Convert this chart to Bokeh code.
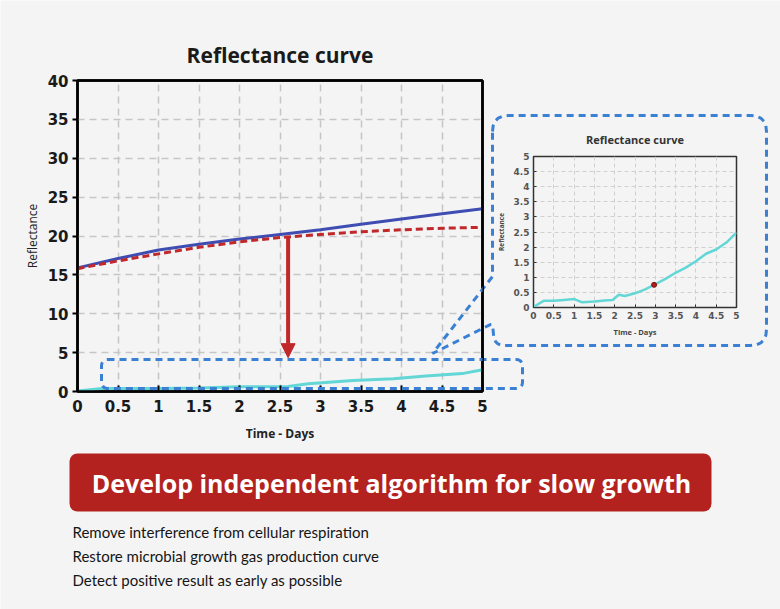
import numpy as np
from bokeh.plotting import figure
from bokeh.models import (GridBox, Range1d, FixedTicker, BoxAnnotation, PolyAnnotation,
                          Label, Arrow, NormalHead, LinearAxis)
from bokeh.embed import file_html
from bokeh.resources import INLINE

# ---- data -------------------------------------------------------------
time_days = [0, 0.5, 1, 1.5, 2, 2.5, 3, 3.5, 4, 4.5, 5]
total_reflectance = [15.9, 17.1, 18.2, 18.95, 19.6, 20.2, 20.8, 21.5, 22.2, 22.85, 23.5]
respiration_time = [0, 0.5, 1, 1.5, 2, 2.5, 3, 3.5, 4, 4.5, 4.95]
respiration_reflectance = [15.8, 16.8, 17.7, 18.55, 19.25, 19.8, 20.2, 20.55, 20.8, 21.0, 21.1]
growth_time = [0, 0.3, 1.0, 1.5, 2.0, 2.6, 2.85, 3.4, 3.9, 4.3, 4.75, 5.0]
growth_reflectance = [0.05, 0.4, 0.4, 0.45, 0.6, 0.65, 1.0, 1.4, 1.65, 2.0, 2.3, 2.8]

zoom_time = [0, 0.1, 0.25, 0.5, 0.75, 1.0, 1.05, 1.2, 1.5, 1.75, 1.95, 2.1, 2.25,
             2.5, 2.75, 3.0, 3.25, 3.5, 3.75, 4.0, 4.25, 4.5, 4.75, 5.0]
zoom_reflectance = [0.02, 0.1, 0.22, 0.22, 0.25, 0.28, 0.25, 0.17, 0.2, 0.23, 0.25, 0.42, 0.38,
                    0.47, 0.6, 0.77, 0.95, 1.15, 1.32, 1.53, 1.78, 1.92, 2.15, 2.48]
detect_time = [2.97]
detect_value = [0.75]

arrow_time = 2.6          # where the respiration curve is subtracted
arrow_end = 4.35          # top edge of the growth window

x_ticks = [0, 0.5, 1, 1.5, 2, 2.5, 3, 3.5, 4, 4.5, 5]
x_tick_labels = ["0", "0.5", "1", "1.5", "2", "2.5", "3", "3.5", "4", "4.5", "5"]
y_ticks_main = [0, 5, 10, 15, 20, 25, 30, 35, 40]
y_ticks_zoom = [0, 0.5, 1, 1.5, 2, 2.5, 3, 3.5, 4, 4.5, 5]
y_tick_labels_zoom = ["0", "0.5", "1", "1.5", "2", "2.5", "3", "3.5", "4", "4.5", "5"]

banner_text = "Develop independent algorithm for slow growth"
bullet_lines = ["Remove interference from cellular respiration",
                "Restore microbial growth gas production curve",
                "Detect positive result as early as possible"]

# ---- styling ----------------------------------------------------------
BG = "#f4f4f4"
BLUE = "#3f4db3"
RED = "#c0282a"
CYAN = "#63d6d6"
CALLOUT = "#3b80d2"
GRID = "#c6c6c6"

W, H = 780, 609
MAIN_W, MAIN_H = 492, 450


def rounded_path(points, radius, steps=6):
    """Closed outline through corner points with the corners rounded off."""
    pts = np.asarray(points, dtype=float)
    out = []
    n = len(pts)
    for i in range(n):
        prev, cur, nxt = pts[i - 1], pts[i], pts[(i + 1) % n]
        r = radius[i]
        if r <= 0:
            out.append(cur)
            continue
        d1 = (prev - cur) / np.linalg.norm(prev - cur)
        d2 = (nxt - cur) / np.linalg.norm(nxt - cur)
        a, b = cur + d1 * r, cur + d2 * r
        for s in np.linspace(0, 1, steps):
            out.append((1 - s) ** 2 * a + 2 * (1 - s) * s * cur + s ** 2 * b)
    out = np.array(out)
    return out[:, 0].tolist(), out[:, 1].tolist()


dashed = dict(fill_color=None, fill_alpha=0, line_color=CALLOUT, line_alpha=1,
              line_width=3, line_dash="7 5")
canvas_box = dict(left_units="canvas", right_units="canvas",
                  top_units="canvas", bottom_units="canvas")

# callout frame around the enlarged chart, pointing at the growth window
callout_x, callout_y = rounded_path(
    [(492, 115), (766, 115), (766, 345), (494, 345), (492, 323), (432, 353), (492, 276)],
    radius=[16, 16, 16, 10, 3, 0, 0])
window = dict(left=101, right=522, top=359, bottom=388)


def add_callouts(fig):
    fig.add_layout(BoxAnnotation(border_radius=6, **window, **canvas_box, **dashed))
    fig.add_layout(PolyAnnotation(xs=callout_x, ys=callout_y,
                                  xs_units="canvas", ys_units="canvas", **dashed))


# ---- base layer: page background, callouts, banner and notes ----------
o = figure(width=W, height=H, output_backend="svg", toolbar_location=None,
           x_axis_type=None, y_axis_type=None,
           x_range=Range1d(0, W), y_range=Range1d(H, 0),
           min_border=0, min_border_left=0, min_border_right=0,
           min_border_top=0, min_border_bottom=0)
o.background_fill_color = BG
o.border_fill_color = BG
o.outline_line_color = None
o.grid.visible = False
add_callouts(o)

o.add_layout(BoxAnnotation(left=69, right=711, top=453, bottom=511, **canvas_box,
                           fill_color="#b3221f", fill_alpha=1, line_color=None,
                           border_radius=8))
o.add_layout(Label(x=391, y=482, x_units="canvas", y_units="canvas", text=banner_text,
                   text_align="center", text_baseline="middle", text_color="white",
                   text_font="Open Sans", text_font_style="bold", text_font_size="25px"))
for i, line in enumerate(bullet_lines):
    o.add_layout(Label(x=72, y=531 + 24 * i, x_units="canvas", y_units="canvas",
                       text=line, text_align="left", text_baseline="middle",
                       text_color="#151515", text_font="Lato", text_font_size="15px"))

# ---- main chart -------------------------------------------------------
p = figure(width=MAIN_W, height=MAIN_H, output_backend="svg", toolbar_location=None,
           x_range=Range1d(0, 5), y_range=Range1d(0, 40),
           min_border_left=77, min_border_right=MAIN_W - 482,
           min_border_top=80, min_border_bottom=MAIN_H - 391)
p.background_fill_color = BG
p.border_fill_color = None
p.outline_line_color = "black"
p.outline_line_width = 2.5

p.title.text = "Reflectance curve"
p.title.align = "center"
p.title.text_font = "Open Sans"
p.title.text_font_size = "21px"
p.title.text_font_style = "bold"
p.title.text_color = "#1a1a1a"
p.title.standoff = 23

bottom_axis = p.below[0]
left_axis = p.left[0]

# plain axis lines that close the frame box on the top and right
frame_edge = dict(ticker=FixedTicker(ticks=[]), major_label_text_font_size="0px",
                  major_tick_in=0, major_tick_out=0, minor_tick_in=0, minor_tick_out=0,
                  major_label_standoff=0, axis_line_width=2.5, axis_line_color="black")
right_axis = LinearAxis(**frame_edge)
top_axis = LinearAxis(**frame_edge)
p.add_layout(right_axis, "right")
p.add_layout(top_axis, "above")

bottom_axis.ticker = FixedTicker(ticks=x_ticks)
bottom_axis.major_label_overrides = {t: s for t, s in zip(x_ticks, x_tick_labels)}
left_axis.ticker = FixedTicker(ticks=y_ticks_main)
for ax in (bottom_axis, left_axis):
    ax.axis_line_color = "black"
    ax.axis_line_width = 2.5
    ax.minor_tick_line_color = None
    ax.major_tick_line_color = "black"
    ax.major_tick_line_width = 2
    ax.major_label_text_font = "DejaVu Sans"
    ax.major_label_text_font_style = "bold"
    ax.major_label_text_font_size = "15px"
    ax.major_label_text_color = "#1a1a1a"
    ax.axis_label_text_font = "Open Sans"
    ax.axis_label_text_font_size = "12px"
    ax.axis_label_text_color = "#222222"
bottom_axis.major_tick_in = 6
bottom_axis.major_tick_out = 0
bottom_axis.major_label_standoff = 8
bottom_axis.axis_label = "Time - Days"
bottom_axis.axis_label_text_font_style = "bold"
bottom_axis.axis_label_standoff = 10
left_axis.major_tick_in = 0
left_axis.major_tick_out = 5
left_axis.major_label_standoff = 4
left_axis.axis_label = "Reflectance"
left_axis.axis_label_text_font_style = "normal"
left_axis.axis_label_standoff = 4

p.xgrid.ticker = FixedTicker(ticks=x_ticks)
p.ygrid.ticker = FixedTicker(ticks=y_ticks_main)
for g in (p.xgrid[0], p.ygrid[0]):
    g.grid_line_color = GRID
    g.grid_line_width = 1.5
    g.grid_line_dash = "7 5"

p.line(time_days, total_reflectance, line_color=BLUE, line_width=3)
p.line(respiration_time, respiration_reflectance, line_color=RED, line_width=3,
       line_dash="7 4")
p.line(growth_time, growth_reflectance, line_color=CYAN, line_width=3)

# subtraction arrow from the respiration curve down to the growth window
arrow_top = float(np.interp(arrow_time, respiration_time, respiration_reflectance))
p.add_layout(Arrow(x_start=arrow_time, y_start=arrow_top,
                   x_end=arrow_time, y_end=arrow_end,
                   line_color=RED, line_width=4,
                   end=NormalHead(size=14, fill_color=RED, line_color=RED)))

# the callouts also cross the chart area, so draw them over the frame too
add_callouts(p)

# ---- enlarged growth chart -------------------------------------------
q = figure(width=274, height=231, output_backend="svg", toolbar_location=None,
           x_range=Range1d(0, 5), y_range=Range1d(0, 5),
           min_border_left=41, min_border_right=30,
           min_border_top=41, min_border_bottom=39)
q.background_fill_color = BG
q.border_fill_color = None
q.outline_line_color = "#333333"
q.outline_line_width = 1.5
q.title.text = "Reflectance curve"
q.title.align = "center"
q.title.text_font = "Open Sans"
q.title.text_font_size = "11px"
q.title.text_font_style = "bold"
q.title.text_color = "#333333"
q.title.standoff = 20

q.xaxis.ticker = FixedTicker(ticks=x_ticks)
q.xaxis.major_label_overrides = {t: s for t, s in zip(x_ticks, x_tick_labels)}
q.yaxis.ticker = FixedTicker(ticks=y_ticks_zoom)
q.yaxis.major_label_overrides = {t: s for t, s in zip(y_ticks_zoom, y_tick_labels_zoom)}
for ax in (q.xaxis[0], q.yaxis[0]):
    ax.axis_line_color = None
    ax.minor_tick_line_color = None
    ax.major_tick_line_color = "#333333"
    ax.major_tick_in = 3
    ax.major_tick_out = 0
    ax.major_label_text_font = "DejaVu Sans"
    ax.major_label_text_font_style = "bold"
    ax.major_label_text_font_size = "9px"
    ax.major_label_text_color = "#555555"
    ax.major_label_standoff = 4
    ax.axis_label_text_font = "Open Sans"
    ax.axis_label_text_font_style = "bold"
    ax.axis_label_text_color = "#444444"
q.xaxis.axis_label = "Time - Days"
q.xaxis.axis_label_text_font_size = "7.5px"
q.xaxis.axis_label_standoff = 5
q.yaxis.axis_label = "Reflectance"
q.yaxis.axis_label_text_font_size = "6.5px"
q.yaxis.axis_label_standoff = 5

q.xgrid.ticker = FixedTicker(ticks=x_ticks)
q.ygrid.ticker = FixedTicker(ticks=y_ticks_zoom)
for g in (q.xgrid[0], q.ygrid[0]):
    g.grid_line_color = "#d0d0d0"
    g.grid_line_width = 1
    g.grid_line_dash = "4 3"

q.line(zoom_time, zoom_reflectance, line_color=CYAN, line_width=2.5)
q.scatter(detect_time, detect_value, size=5, fill_color="#b0201c", line_color="#7a1512")

# ---- stack the layers on one canvas ------------------------------------
# zero-size leading tracks keep the layers from sharing grid lines
layout = GridBox(children=[(o, 0, 0, 5, 4), (p, 1, 1, 3, 1), (q, 2, 2, 1, 1)],
                 rows=["0px", "115px", "231px", "104px", "159px"],
                 cols=["0px", "492px", "274px", "14px"],
                 width=W, height=H)

with open("out.html", "w") as f:
    f.write(file_html(layout, INLINE))
